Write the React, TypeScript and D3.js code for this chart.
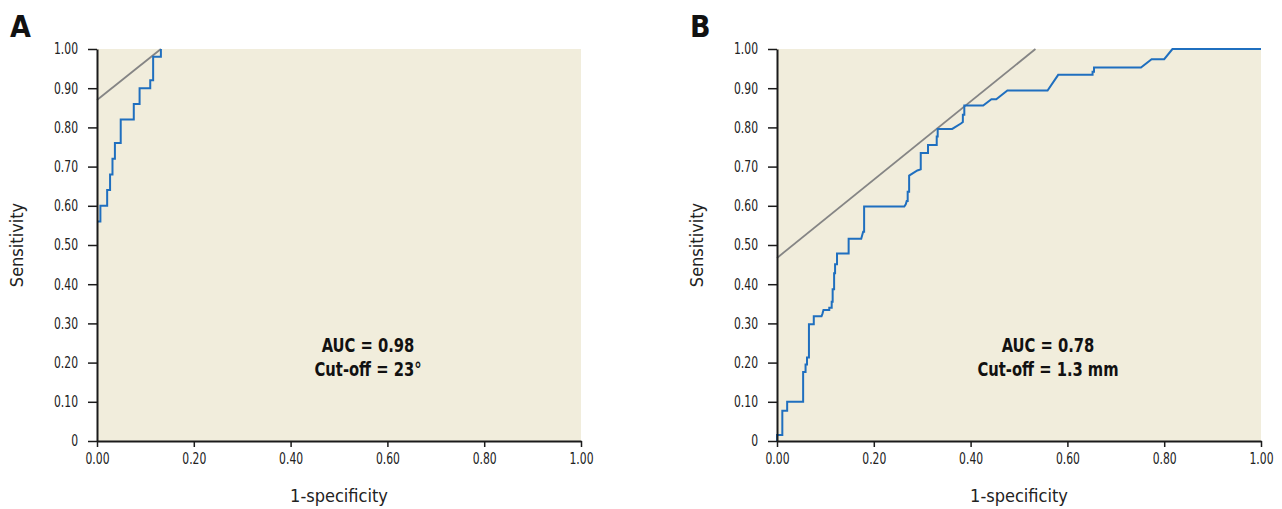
import React, { useEffect, useRef } from "react";
import * as d3 from "d3";

// ---- Data ----
const yTicks = [0, 0.1, 0.2, 0.3, 0.4, 0.5, 0.6, 0.7, 0.8, 0.9, 1.0];
const xTicks = [0, 0.2, 0.4, 0.6, 0.8, 1.0];

// Panel A ROC vertices [1-specificity, sensitivity]
const rocA: [number, number][] = [
  [0, 0.56], [0.007, 0.56], [0.007, 0.6], [0.021, 0.6], [0.021, 0.64], [0.027, 0.64],
  [0.027, 0.68], [0.032, 0.68], [0.032, 0.72], [0.037, 0.72], [0.037, 0.76], [0.049, 0.76],
  [0.049, 0.82], [0.076, 0.82], [0.076, 0.86], [0.088, 0.86], [0.088, 0.9], [0.11, 0.9],
  [0.11, 0.92], [0.116, 0.92], [0.116, 0.98], [0.132, 0.98], [0.132, 1.0],
];
const tangentA: [number, number][] = [[0, 0.87], [0.132, 1.0]];

// Panel B ROC vertices
const rocB: [number, number][] = [
  [0, 0], [0, 0.015], [0.011, 0.015], [0.011, 0.077], [0.021, 0.077], [0.021, 0.1],
  [0.054, 0.1], [0.054, 0.176], [0.059, 0.176], [0.059, 0.195], [0.062, 0.195], [0.062, 0.213],
  [0.066, 0.213], [0.066, 0.298], [0.076, 0.298], [0.076, 0.318], [0.092, 0.318], [0.094, 0.325],
  [0.096, 0.334], [0.108, 0.334], [0.108, 0.34], [0.113, 0.34], [0.113, 0.355], [0.115, 0.355],
  [0.115, 0.387], [0.118, 0.387], [0.118, 0.428], [0.12, 0.428], [0.12, 0.451], [0.124, 0.451],
  [0.124, 0.478], [0.148, 0.478], [0.148, 0.516], [0.174, 0.516], [0.176, 0.525], [0.178, 0.534],
  [0.18, 0.534], [0.18, 0.598], [0.263, 0.598], [0.266, 0.604], [0.268, 0.612], [0.27, 0.612],
  [0.27, 0.636], [0.273, 0.636], [0.273, 0.677], [0.29, 0.69], [0.297, 0.693], [0.297, 0.735],
  [0.312, 0.735], [0.312, 0.755], [0.33, 0.755], [0.33, 0.777], [0.332, 0.777], [0.332, 0.796],
  [0.362, 0.796], [0.38, 0.81], [0.384, 0.814], [0.384, 0.832], [0.387, 0.832], [0.387, 0.856],
  [0.426, 0.856], [0.443, 0.872], [0.453, 0.872], [0.476, 0.894], [0.559, 0.894], [0.581, 0.934],
  [0.652, 0.934], [0.652, 0.942], [0.655, 0.942], [0.655, 0.953], [0.752, 0.953], [0.774, 0.974],
  [0.8, 0.974], [0.817, 1.0], [1.0, 1.0],
];
const tangentB: [number, number][] = [[0, 0.467], [0.534, 1.0]];

const panelLetters = ["A", "B"];
const aucLines = [
  ["AUC = 0.98", "Cut-off = 23°"],
  ["AUC = 0.78", "Cut-off = 1.3 mm"],
];
const annotX = 0.56;

const FONT = "'DejaVu Sans Condensed', 'Liberation Sans Narrow', sans-serif";

function condense(sel: d3.Selection<any, any, any, any>, f: number) {
  sel.each(function () {
    const el = this as SVGTextElement;
    const ax = +(el.getAttribute("x") || 0);
    el.setAttribute("transform", `translate(${ax},0) scale(${f},1) translate(${-ax},0)`);
  });
}

export default function App() {
  const ref = useRef<SVGSVGElement>(null);

  useEffect(() => {
    const svg = d3.select(ref.current);
    svg.selectAll("*").remove();
    const top = 49, bottom = 441;
    const lefts = [97, 777];
    const width = 484;
    const panels = [
      { roc: rocA, tan: tangentA },
      { roc: rocB, tan: tangentB },
    ];

    panels.forEach((p, i) => {
      const left = lefts[i];
      const x = d3.scaleLinear().domain([0, 1]).range([left, left + width]);
      const y = d3.scaleLinear().domain([0, 1]).range([bottom, top]);
      const g = svg.append("g");

      g.append("rect")
        .attr("x", x(0)).attr("y", y(1))
        .attr("width", x(1) - x(0)).attr("height", y(0) - y(1))
        .attr("fill", "#f1eddc");

      const line = d3.line<[number, number]>().x(d => x(d[0])).y(d => y(d[1]));

      g.append("path").attr("d", line(p.tan)!)
        .attr("fill", "none").attr("stroke", "#858585").attr("stroke-width", 1.8);

      g.append("path").attr("d", line(p.roc)!)
        .attr("fill", "none").attr("stroke", "#1f6fbf").attr("stroke-width", 2)
        .attr("stroke-linejoin", "miter");

      const yAxis = d3.axisLeft(y).tickValues(yTicks).tickSize(9).tickSizeOuter(0).tickPadding(10)
        .tickFormat(d => (+d === 0 ? "0" : (+d).toFixed(2)));
      const xAxis = d3.axisBottom(x).tickValues(xTicks).tickSize(6).tickSizeOuter(0).tickPadding(6)
        .tickFormat(d => (+d).toFixed(2));

      const ya = g.append("g").attr("transform", `translate(${x(0)},0)`).call(yAxis);
      const xa = g.append("g").attr("transform", `translate(0,${y(0)})`).call(xAxis);
      [ya, xa].forEach(a => {
        a.select(".domain").attr("stroke", "#1a1a1a").attr("stroke-width", 2);
        a.selectAll(".tick line").attr("stroke", "#1a1a1a").attr("stroke-width", 1.5);
        a.selectAll(".tick text").attr("fill", "#222").style("font-family", FONT).style("font-size", "15px");
        condense(a.selectAll(".tick text"), 0.8);
      });

      g.append("text").text(panelLetters[i])
        .attr("x", left - 87).attr("y", 37)
        .style("font-family", FONT).style("font-weight", "bold").style("font-size", "30px").attr("fill", "#111");

      g.append("text").text("Sensitivity")
        .attr("transform", `translate(${left - 80},${(top + bottom) / 2}) rotate(-90)`)
        .attr("text-anchor", "middle").attr("dy", "0.35em")
        .style("font-family", FONT).style("font-size", "18px").attr("fill", "#222");

      g.append("text").text("1-specificity")
        .attr("x", (x(0) + x(1)) / 2).attr("y", 502)
        .attr("text-anchor", "middle")
        .style("font-family", FONT).style("font-size", "18px").attr("fill", "#222");

      const ann = g.selectAll("text.ann").data(aucLines[i]).enter().append("text")
        .attr("class", "ann")
        .text(t => t)
        .attr("x", x(annotX)).attr("y", (_, j) => 352 + j * 24)
        .attr("text-anchor", "middle")
        .style("font-family", FONT).style("font-weight", "bold").style("font-size", "20px").attr("fill", "#111");
      condense(ann, 0.82);
    });
  }, []);

  return (
    <svg ref={ref} width={1282} height={509}
      style={{ position: "absolute", left: 0, top: 0, background: "#fff" }} />
  );
}
